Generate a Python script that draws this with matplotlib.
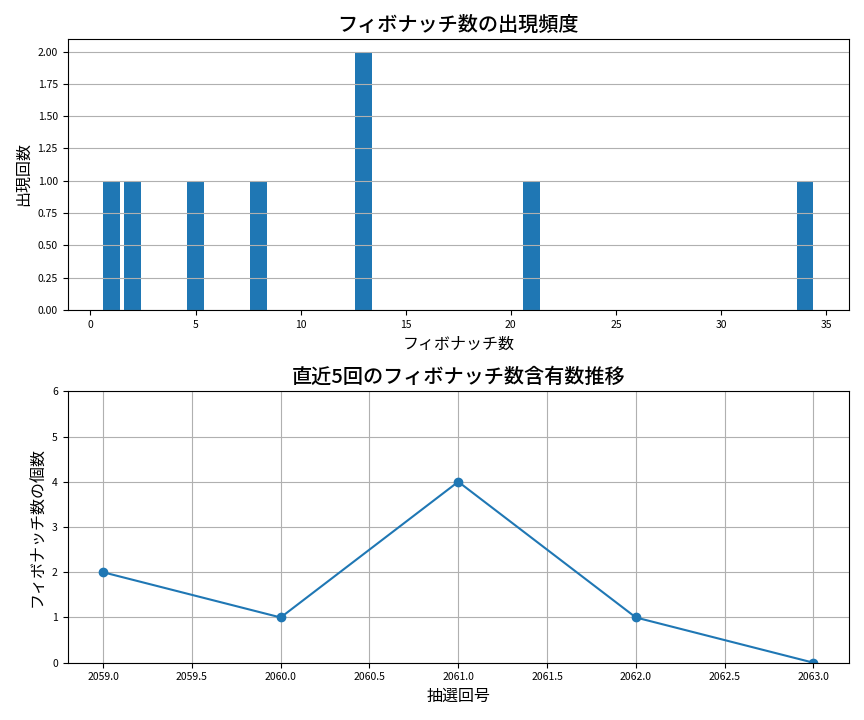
import matplotlib.pyplot as plt

plt.rcParams['font.family'] = ['Noto Sans CJK JP', 'DejaVu Sans']

# フィボナッチ数の出現頻度
fib_numbers = [1, 2, 5, 8, 13, 21, 34]
fib_counts = [1, 1, 1, 1, 2, 1, 1]

# 直近5回
draws = [2059, 2060, 2061, 2062, 2063]
fib_per_draw = [2, 1, 4, 1, 0]

fig, (ax1, ax2) = plt.subplots(2, 1, figsize=(8.64, 7.2), dpi=100)

ax1.bar(fib_numbers, fib_counts)
ax1.set_title('フィボナッチ数の出現頻度', fontsize=14.5, fontweight='medium')
ax1.set_xlabel('フィボナッチ数', fontsize=11.5)
ax1.set_ylabel('出現回数', fontsize=11.5)
ax1.tick_params(labelsize=7.5)
ax1.grid(axis='y')

ax2.plot(draws, fib_per_draw, marker='o')
ax2.set_title('直近5回のフィボナッチ数含有数推移', fontsize=14.5, fontweight='medium')
ax2.set_xlabel('抽選回号', fontsize=11.5)
ax2.set_ylabel('フィボナッチ数の個数', fontsize=11.5)
ax2.set_ylim(0, 6)
ax2.tick_params(labelsize=7.5)
ax2.grid(True)

plt.tight_layout()
plt.savefig('out.png')
